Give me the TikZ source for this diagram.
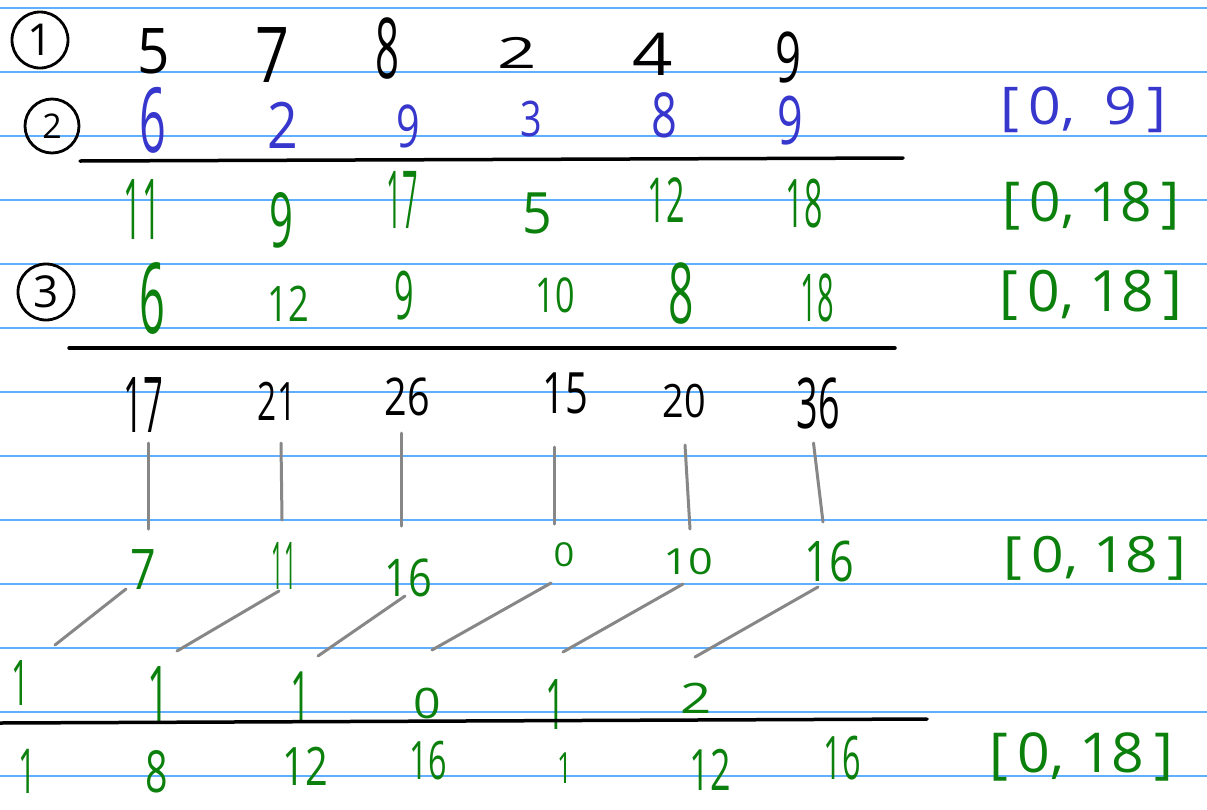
\documentclass[tikz,border=0pt]{standalone}
\usepackage{fontspec}
\setmainfont{Open Sans}
\definecolor{ruleblue}{RGB}{95,175,255}
\definecolor{blueink}{RGB}{55,55,205}
\definecolor{greenink}{RGB}{12,128,12}
\definecolor{connink}{RGB}{135,135,135}
\begin{document}
\begin{tikzpicture}[x=1pt,y=-1pt,
  dg/.style 2 args={inner sep=0pt, font=\fontsize{#1}{#1}\selectfont, xscale=#2},
  bk/.style={text=black},
  bl/.style={text=blueink},
  gr/.style={text=greenink},
  conn/.style={draw=connink, line width=3pt, line cap=round},
  bar/.style={draw=black, line width=3.5pt, line cap=round},
  cnum/.style={draw=black, circle, line width=2.8pt, minimum size=#1, inner sep=0pt, font=\fontsize{44}{44}\selectfont},
  ruling/.style={draw=ruleblue, line width=1.3pt}]
\fill[white] (0,0) rectangle (1207,809);
\useasboundingbox (0,0) rectangle (1207,809);
\foreach \k in {0,...,12} \draw[ruling] (0,{8+64*\k}) -- (1207,{8+64*\k});

% row 1
\node[cnum=56] (c1) at (40,40) {1};
\node[dg={63}{0.9},bk] (a1) at (154,51) {5};
\node[dg={77}{0.77},bk] (a2) at (272,55) {7};
\node[dg={84}{0.5},bk] (a3) at (388,48) {8};
\node[dg={43}{1.6},bk] (a4) at (517,53) {2};
\node[dg={59}{1.2},bk] (a5) at (653,54) {4};
\node[dg={70}{0.65},bk] (a6) at (788,57) {9};

% row 2
\node[cnum=54, font=\fontsize{34}{34}\selectfont] (c2) at (52,126) {2};
\node[dg={90}{0.52},bl] (b1) at (153,120) {6};
\node[dg={64}{0.84},bl] (b2) at (283,125) {2};
\node[dg={59}{0.70},bl] (b3) at (408,126) {9};
\node[dg={49}{0.77},bl] (b4) at (531,119) {3};
\node[dg={62}{0.73},bl] (b5) at (664,115) {8};
\node[dg={67}{0.67},bl] (b6) at (790,121) {9};
\node[dg={52}{1.1},bl] (br2) at (1083,110) {[\,0,\ \ 9\,]};
\coordinate (l1a) at (80,161);
\coordinate (l1b) at (903,158);
\draw[bar] (l1a) -- (l1b);

% row 3
\node[dg={84}{0.38},gr] (d1) at (142,210) {11};
\node[dg={76}{0.55},gr] (d2) at (281,220) {9};
\node[dg={80}{0.34},gr] (d3) at (402,200) {17};
\node[dg={57}{0.91},gr] (d4) at (537,213) {5};
\node[dg={62}{0.52},gr] (d5) at (666,200) {12};
\node[dg={67}{0.48},gr] (d6) at (804,204) {18};
\node[dg={55}{1.0},gr] (br3) at (1091,206) {[\,0,\ 18\,]};

% row 4
\node[cnum=56] (c3) at (46,292) {3};
\node[dg={98}{0.46},gr] (e1) at (152,298) {6};
\node[dg={49}{0.74},gr] (e2) at (288,304) {12};
\node[dg={67}{0.51},gr] (e3) at (404,296) {9};
\node[dg={48}{0.71},gr] (e4) at (555,295) {10};
\node[dg={84}{0.53},gr] (e5) at (681,293) {8};
\node[dg={66}{0.44},gr] (e6) at (817,298) {18};
\node[dg={57}{1.0},gr] (br4) at (1091,295) {[\,0,\ 18\,]};
\coordinate (l2a) at (69,348);
\coordinate (l2b) at (895,348);
\draw[bar] (l2a) -- (l2b);

% row 5
\node[dg={77}{0.45},bk] (f1) at (143,405) {17};
\node[dg={53}{0.63},bk] (f2) at (277,401) {21};
\node[dg={52}{0.76},bk] (f3) at (407,397) {26};
\node[dg={57}{0.70},bk] (f4) at (565,393) {15};
\node[dg={46}{0.82},bk] (f5) at (684,401) {20};
\node[dg={70}{0.54},bk] (f6) at (818,403) {36};

% row 6
\node[dg={56}{0.8},gr] (g1) at (143,570) {7};
\node[dg={66}{0.32},gr] (g2) at (284,566) {11};
\node[dg={52}{0.8},gr] (g3) at (408,578) {16};
\node[dg={33}{1.1},gr] (g4) at (564,555) {0};
\node[dg={36}{1.2},gr] (g5) at (688,562) {10};
\node[dg={56}{0.77},gr] (g6) at (829,561) {16};
\node[dg={50}{1.14},gr] (br6) at (1095,558) {[\,0,\ 18\,]};

% vertical connectors
\coordinate (v1t) at (148.5,443); \coordinate (v1b) at (148.5,529);
\coordinate (v2t) at (281,443);   \coordinate (v2b) at (282,520);
\coordinate (v3t) at (401,433);   \coordinate (v3b) at (401,526);
\coordinate (v4t) at (554,447);   \coordinate (v4b) at (554,524);
\coordinate (v5t) at (685,445);   \coordinate (v5b) at (690,529);
\coordinate (v6t) at (813.5,443); \coordinate (v6b) at (823,522);
\foreach \i in {1,...,6} \draw[conn] (v\i t) -- (v\i b);

% diagonal connectors
\coordinate (s1t) at (126,589); \coordinate (s1b) at (55,645);
\coordinate (s2t) at (279,591); \coordinate (s2b) at (177,651);
\coordinate (s3t) at (405,596); \coordinate (s3b) at (318,656);
\coordinate (s4t) at (551,583); \coordinate (s4b) at (432,650);
\coordinate (s5t) at (683,584); \coordinate (s5b) at (563,652);
\coordinate (s6t) at (818,587); \coordinate (s6b) at (695,657);
\foreach \i in {1,...,6} \draw[conn] (s\i t) -- (s\i b);

% row 7
\node[dg={63}{0.5},gr] (h1) at (21,683) {1};
\node[dg={77}{0.5},gr] (h2) at (159,694) {1};
\node[dg={71}{0.5},gr] (h3) at (301,697) {1};
\node[dg={42}{1.15},gr] (h4) at (427,703) {0};
\node[dg={70}{0.5},gr] (h5) at (555,705) {1};
\node[dg={42}{1.3},gr] (h6) at (696,698) {2};
\coordinate (l3a) at (0,723);
\coordinate (l3b) at (927,719);
\draw[bar] (l3a) -- (l3b);

% row 8
\node[dg={62}{0.5},gr] (k1) at (27,771) {1};
\node[dg={58}{0.68},gr] (k2) at (157,772) {8};
\node[dg={53}{0.75},gr] (k3) at (305,766) {12};
\node[dg={53}{0.61},gr] (k4) at (428,761) {16};
\node[dg={43}{0.6},gr] (k5) at (565,768) {1};
\node[dg={57}{0.63},gr] (k6) at (710,770) {12};
\node[dg={60}{0.54},gr] (k7) at (842,758) {16};
\node[dg={55}{1.04},gr] (br8) at (1081,757) {[\,0,\ 18\,]};
\end{tikzpicture}
\end{document}
